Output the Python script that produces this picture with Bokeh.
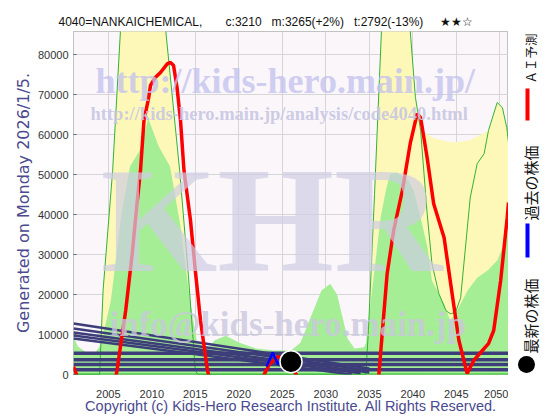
import math
from bokeh.plotting import figure
from bokeh.layouts import row
from bokeh.models import Label, FixedTicker, Range1d, Title
from bokeh.core.properties import value
from bokeh.embed import file_html
from bokeh.resources import INLINE

# ---------------- data ----------------
NB = "\u00a0"
title_parts = ["4040=NANKAICHEMICAL,", "c:3210", "m:3265(+2%)", "t:2792(-13%)", "★★☆"]
title_gaps = [7, 3, 3, 5]
generated_text = "Generated on Monday 2026/1/5."
copyright_text = "Copyright (c) Kids-Hero Research Institute. All Rights Reserved."

x_ticks = [2005, 2010, 2015, 2020, 2025, 2030, 2035, 2040, 2045, 2050]
y_ticks = [0, 10000, 20000, 30000, 40000, 50000, 60000, 70000, 80000]

# upper forecast band (yellow, green outline)
upper_years = [2001, 2004.0, 2004.4, 2005.5, 2006.4, 2007.0, 2011.0, 2011.6, 2013.2, 2014.2,
               2015.0, 2015.3, 2034.6, 2034.9, 2035.6, 2036.4, 2037.0, 2039.0, 2039.7, 2040.3,
               2040.9, 2041.65, 2042.2, 2043.0, 2043.8, 2044.3, 2044.9, 2045.5, 2046.6, 2047.4,
               2048.2, 2048.7, 2049.7, 2050.3, 2050.8, 2051]
upper_vals = [0, 0, 21000, 51000, 86000, 120000, 120000, 86000, 51000, 25000,
              1000, 0, 0, 11000, 45000, 86000, 120000, 120000, 86000, 69300,
              61000, 40200, 27700, 20200, 16000, 15200, 15500, 19200, 44200, 52700,
              55200, 61000, 68000, 66700, 61700, 58000]

# wider yellow spread between the two late peaks
spread_years = [2040.9, 2042.5, 2044.5, 2046.5, 2048.7]
spread_vals = [61000, 59000, 58000, 58500, 61000]

# lower forecast band (green)
lower_years = [2001, 2001.5, 2002.5, 2003.5, 2004.0, 2004.3, 2005.3, 2006.5, 2007.5, 2008.6,
               2009.6, 2010.8, 2012.1, 2013.3, 2014.4, 2015.2, 2016.5, 2017.2, 2018.5, 2020.0,
               2022.0, 2024.0, 2026.0, 2027.1, 2028.2, 2029.5, 2030.5, 2031.3, 2032.5, 2033.3,
               2034.4, 2034.6, 2036.3, 2036.9, 2037.4, 2038.2, 2039.0, 2039.5, 2040.1, 2040.9,
               2041.7, 2042.2, 2043.6, 2044.3, 2045.1, 2046.3, 2047.4, 2048.6, 2049.7, 2050.8, 2051]
lower_vals = [9500, 7000, 5500, 5500, 7000, 9000, 18500, 40000, 52000, 56000,
              64000, 57000, 52000, 37000, 18500, 8000, 6500, 8500, 9700, 8000,
              6500, 6000, 6000, 8000, 14000, 21000, 22700, 20000, 9000, 6500,
              6800, 7700, 39200, 46000, 50200, 50500, 49300, 48500, 46000, 39200,
              31700, 23500, 17700, 13500, 16000, 21000, 24200, 26000, 28500, 34200, 35500]

# AI forecast (red)
ai_years = [2001.0, 2001.35, 2002.5, 2004.0, 2005.3, 2006.0, 2007.0, 2007.75, 2008.3, 2008.7,
            2009.1, 2009.65, 2009.85, 2010.4, 2011.0, 2011.8, 2012.15, 2012.5, 2012.9, 2013.3,
            2013.7, 2014.45, 2015.0, 2015.6, 2016.4, 2017.5, 2019.5, 2021.5, 2022.8, 2023.5,
            2024.5, 2025.5, 2026.6, 2028.0, 2031.0, 2034.5, 2035.6, 2036.1, 2037.05, 2037.8,
            2038.8, 2039.7, 2040.5, 2040.9, 2041.65, 2042.4, 2043.6, 2044.3, 2045.3, 2046.25,
            2047.0, 2047.8, 2048.7, 2049.3, 2050.1, 2050.85, 2051.0]
ai_vals = [2000, 0, -9000, -14000, -7000, 1000, 16000, 30200, 42700, 51000,
           63500, 69300, 72250, 74250, 75500, 77700, 78000, 77250, 71750, 63500,
           51000, 38500, 26000, 13500, 1000, -8000, -12000, -7000, -500, 2500,
           4500, 3500, 0, -6000, -11000, -9000, -4000, 0, 25200, 36000,
           46000, 57700, 65200, 64200, 54200, 42700, 34200, 23500, 8500, 250,
           3500, 5500, 7700, 11000, 23500, 39200, 43000]

# past price (blue)
past_years = [2023.2, 2023.5, 2023.9, 2024.2, 2024.5, 2024.8, 2025.2, 2025.6, 2026.0]
past_vals = [2000, 3500, 5500, 4000, 2500, 3300, 3000, 3200, 3210]

# latest price
latest_year = [2026.0]
latest_val = [3210]

# past trend lines (navy)
trend_x0 = [2001, 2001, 2001, 2001, 2001]
trend_x1 = [2035, 2035, 2035, 2034, 2033]
trend_y0 = [12750, 11500, 10500, 9750, 9000]
trend_y1 = [1500, 1000, 500, 300, 0]
level_vals = [5300, 3700, 2500, 1200]

# legend
legend_labels = ["ＡＩ予測", "過去の株価", "最新の株価"]
legend_colors = ["#ff0000", "#0000ff", "#000000"]

# ---------------- main figure ----------------
header = title_parts[0]
for gap, part in zip(title_gaps, title_parts[1:]):
    header += NB * gap + part

p = figure(width=508, height=420, x_range=Range1d(2001, 2051), y_range=Range1d(0, 85750),
           min_border_left=73, min_border_right=0, min_border_top=31, min_border_bottom=46,
           output_backend="svg", toolbar_location=None, title=header)
p.title.text_font = "Liberation Sans"
p.title.text_font_size = "12px"
p.title.text_font_style = "normal"
p.title.text_color = "#111111"
p.title.align = "left"
p.title.offset = -15
p.title.standoff = 6

p.background_fill_color = "#faf6fa"
p.border_fill_color = "white"
p.outline_line_color = "#8a8a8a"
p.outline_line_dash = "1 1"

p.xaxis.ticker = FixedTicker(ticks=x_ticks)
p.yaxis.ticker = FixedTicker(ticks=y_ticks)
p.xgrid.ticker = FixedTicker(ticks=x_ticks)
p.ygrid.ticker = FixedTicker(ticks=y_ticks)
p.xgrid.grid_line_color = "#d6d6d6"
p.ygrid.grid_line_color = "#d6d6d6"
for ax in (p.xaxis[0], p.yaxis[0]):
    ax.axis_line_color = None
    ax.minor_tick_line_color = None
    ax.major_label_text_font = "Liberation Sans"
    ax.major_label_text_font_size = "11px"
    ax.major_label_text_color = "#333333"
p.xaxis.major_tick_line_color = None
p.xaxis.major_label_standoff = 9
p.yaxis.major_tick_in = 3
p.yaxis.major_tick_out = 0
p.yaxis.major_tick_line_color = "#666666"
p.yaxis.major_label_standoff = 5

p.add_layout(Title(text=generated_text, align="center", text_font="DejaVu Sans",
                   text_font_size="16px", text_font_style="normal", text_color="#4a4a8f",
                   standoff=4, offset=-3), "left")
p.add_layout(Title(text=copyright_text, align="center", text_font="Liberation Sans",
                   text_font_size="14.5px", text_font_style="normal", text_color="#4a4a8f",
                   standoff=-10, offset=-1), "below")

# bands
p.varea(x=upper_years, y1=0, y2=upper_vals, fill_color="#fdf8b8", fill_alpha=1)
p.varea(x=spread_years, y1=0, y2=spread_vals, fill_color="#fdf8b8", fill_alpha=1)
p.varea(x=lower_years, y1=0, y2=lower_vals, fill_color="#a6ee96", fill_alpha=1)
p.line(upper_years, upper_vals, line_color="#33b233", line_width=1)
p.line([2001, 2051], [0, 0], line_color="#22bb22", line_width=2)

# watermarks (screen units relative to frame)
wm = dict(x_units="screen", y_units="screen", text_font="Liberation Serif",
          text_font_style="bold", text_baseline="alphabetic")
p.add_layout(Label(x=198, y=155, text="KHR", text_align="center", text_font_size="150px",
                   text_color="#cfcde3", text_alpha=0.7, **wm))
p.add_layout(Label(x=22, y=294, text="http://kids-hero.main.jp/", text_font_size="36px",
                   text_color="#c4c2ee", text_alpha=0.8, **wm))
p.add_layout(Label(x=17, y=261, text="http://kids-hero.main.jp/analysis/code4040.html",
                   text_font_size="18.5px", text_color="#c8c6e2", text_alpha=0.9, **wm))
p.add_layout(Label(x=36, y=50, text="info@kids-hero.main.jp", text_font_size="35px",
                   text_color="#c9c7dd", text_alpha=0.8, **wm))

# trend lines
for i in range(len(trend_x0)):
    p.line([trend_x0[i], trend_x1[i]], [trend_y0[i], trend_y1[i]], line_color="#3d3d7a", line_width=2.5)
for v in level_vals:
    p.line([2001, 2051], [v, v], line_color="#3d3d7a", line_width=3.5)

# AI forecast, past, latest
p.line(ai_years, ai_vals, line_color="#ff0000", line_width=3.5)
p.line(past_years, past_vals, line_color="#0000ff", line_width=2.5)
p.scatter(latest_year, latest_val, size=22, fill_color="black", line_color="white", line_width=1.5)

# ---------------- legend panel (y = 420 - pixel row) ----------------
q = figure(width=52, height=420, x_range=Range1d(0, 52), y_range=Range1d(46, 389),
           min_border_left=0, min_border_right=0, min_border_top=31, min_border_bottom=46,
           output_backend="svg", toolbar_location=None,
           x_axis_location=None, y_axis_location=None)
q.outline_line_color = None
q.background_fill_color = "white"
q.border_fill_color = "white"
q.xgrid.visible = False
q.ygrid.visible = False

q.text(x=[22], y=[337], text=[legend_labels[0]], angle=math.pi / 2,
       text_align="left", text_baseline="middle", text_font=value("Noto Sans CJK JP"),
       text_font_size="12.5px", text_color="#111111")
q.text(x=[22, 22], y=[200, 67], text=legend_labels[1:], angle=math.pi / 2,
       text_align="left", text_baseline="middle", text_font=value("Noto Sans CJK JP"),
       text_font_size="15px", text_color="#111111")
q.quad(left=[17, 17], right=[21, 21], top=[332, 197], bottom=[300, 163],
       fill_color=legend_colors[:2], line_color=None)
q.scatter(x=[18], y=[56], size=17, fill_color=legend_colors[2], line_color=None)

layout = row(p, q, spacing=0)
open("out.html", "w").write(file_html(layout, INLINE))
